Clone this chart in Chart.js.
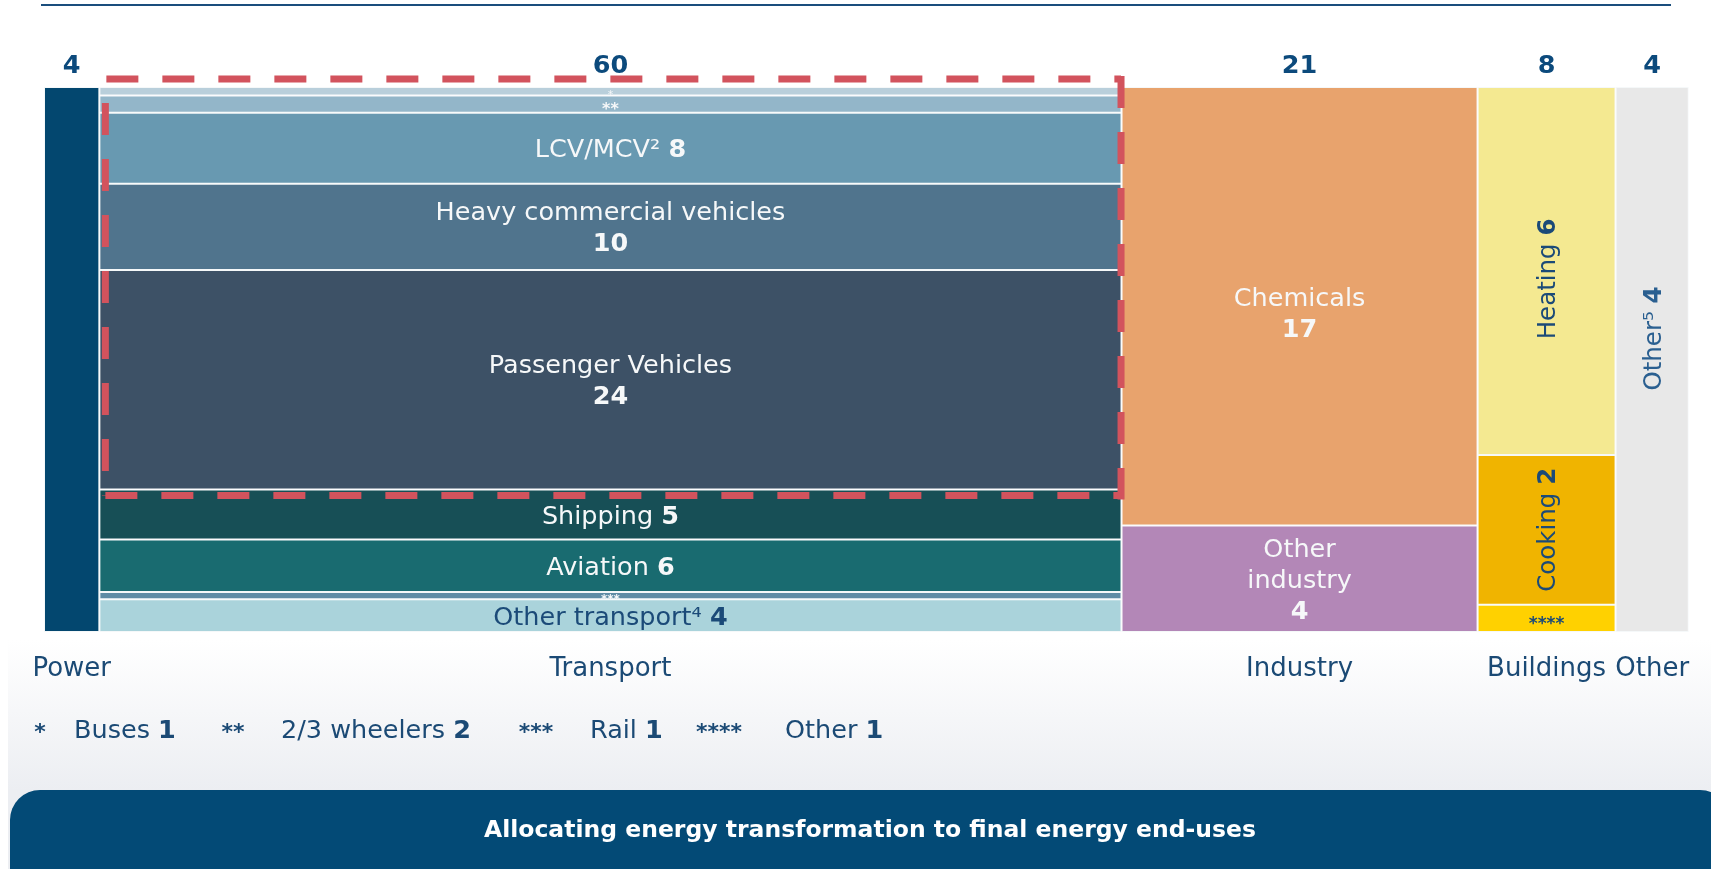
<!DOCTYPE html>
<html>
<head>
<meta charset="utf-8">
<script src="https://cdn.jsdelivr.net/npm/chart.js@4.4.1/dist/chart.umd.min.js"></script>
<style>
html,body{margin:0;padding:0;background:#fff;width:1711px;height:869px;overflow:hidden;font-family:"DejaVu Sans",sans-serif;}
#bgpanel{position:absolute;left:8px;top:600px;right:0;bottom:0;background:linear-gradient(to bottom,#ffffff 0px,#ffffff 40px,#eceef2 190px);}
#chart{position:absolute;left:0;top:0;}
#topline{position:absolute;left:41px;top:4px;width:1630px;height:2px;background:#1a4e7d;}
.leg{position:absolute;top:714px;font-size:25.5px;line-height:30px;color:#1b4a75;white-space:nowrap;}
.ast{position:absolute;top:717px;font-size:22px;font-weight:bold;line-height:30px;color:#1b4a75;transform:translateX(-50%);white-space:nowrap;}
#footer{position:absolute;left:10px;top:790px;width:1720px;height:110px;border-radius:30px;background:#034a76;color:#fff;}
#footer span{position:absolute;left:0;right:0;top:25px;text-align:center;line-height:28px;font-weight:bold;font-size:23.5px;}
</style>
</head>
<body>
<div id="bgpanel"></div>
<canvas id="chart" width="1711" height="869"></canvas>
<div id="topline"></div>
<div id="legend"></div>
<div id="footer"><span>Allocating energy transformation to final energy end-uses</span></div>
<script>
// ---------------- data ----------------
const columnNames = ['Power', 'Transport', 'Industry', 'Buildings', 'Other'];
const columnTotals = [4, 60, 21, 8, 4];
// column widths as drawn in the picture
const columnWidths = [3.25, 60, 20.9, 8.1, 4.3];

const powerSegments = ['Power'];
const powerValues = [4];

const transportSegments = ['Buses', '2/3 wheelers', 'LCV/MCV', 'Heavy commercial vehicles', 'Passenger Vehicles', 'Shipping', 'Aviation', 'Rail', 'Other transport'];
const transportValues = [0.95, 1.9, 7.8, 9.5, 24.2, 5.5, 5.8, 0.8, 3.6];
const transportLabelValues = [1, 2, 8, 10, 24, 5, 6, 1, 4];

const industrySegments = ['Chemicals', 'Other industry'];
const industryValues = [16.9, 4.1];
const industryLabelValues = [17, 4];

const buildingsSegments = ['Heating', 'Cooking', 'Other'];
const buildingsValues = [5.4, 2.2, 0.4];
const buildingsLabelValues = [6, 2, 1];

const otherSegments = ['Other'];
const otherValues = [4];

const footnoteMarks = ['*', '**', '***', '****'];
const footnoteNames = ['Buses', '2/3 wheelers', 'Rail', 'Other'];
const footnoteValues = [1, 2, 1, 1];

// ---------------- styles ----------------
const powerColors = ['#03476f'];
const transportColors = ['#b9cfdb', '#93b6c9', '#6899b1', '#50748d', '#3d5166', '#174f56', '#196b70', '#5f8ca5', '#aad3db'];
const industryColors = ['#e8a36d', '#b387b7'];
const buildingsColors = ['#f4e991', '#f0b400', '#ffd100'];
const otherColors = ['#e8e8e8'];
const NAVY = '#1b4a78';
const WHITE = '#f6f8f9';
const LABEL_SIZE = 25.5;

const columns = [
  {segs: powerSegments, vals: powerValues, colors: powerColors},
  {segs: transportSegments, vals: transportValues, colors: transportColors},
  {segs: industrySegments, vals: industryValues, colors: industryColors},
  {segs: buildingsSegments, vals: buildingsValues, colors: buildingsColors},
  {segs: otherSegments, vals: otherValues, colors: otherColors}
];

const totalWidth = columnWidths.reduce((a, b) => a + b, 0);
const centers = [];
const bounds = [];
const datasets = [];
const dsIndex = {};
let left = 0;
columns.forEach((col, ci) => {
  const L = left, R = left + columnWidths[ci], C = (L + R) / 2;
  centers.push(C); bounds.push([L, R]);
  const total = col.vals.reduce((a, b) => a + b, 0);
  let cum = 0;
  col.vals.forEach((v, si) => {
    dsIndex[ci + '_' + si] = datasets.length;
    datasets.push({
      label: col.segs[si],
      // neighbouring null points make the "flex" bar span exactly [L, R]
      data: [{x: 2 * L - C, y: null}, {x: C, y: [cum / total, (cum + v) / total]}, {x: 2 * R - C, y: null}],
      backgroundColor: col.colors[si],
      borderColor: 'rgba(244,247,249,0.92)',
      borderWidth: 1,
      borderSkipped: false,
      inflateAmount: 0,
      stack: 'mekko',
      barThickness: 'flex',
      categoryPercentage: 1,
      barPercentage: 1
    });
    cum += v;
  });
  left = R;
});

// ---------------- cell labels ----------------
const cellLabels = [
  {c: 1, s: 0, lines: [[{t: '*'}]], size: 11, color: WHITE, ast: true},
  {c: 1, s: 1, lines: [[{t: '**', b: true}]], size: 16, color: WHITE, ast: true},
  {c: 1, s: 2, lines: [[{t: 'LCV/MCV² '}, {t: String(transportLabelValues[2]), b: true}]], color: WHITE},
  {c: 1, s: 3, lines: [[{t: 'Heavy commercial vehicles'}], [{t: String(transportLabelValues[3]), b: true}]], color: WHITE},
  {c: 1, s: 4, lines: [[{t: 'Passenger Vehicles'}], [{t: String(transportLabelValues[4]), b: true}]], color: WHITE},
  {c: 1, s: 5, lines: [[{t: 'Shipping '}, {t: String(transportLabelValues[5]), b: true}]], color: WHITE},
  {c: 1, s: 6, lines: [[{t: 'Aviation '}, {t: String(transportLabelValues[6]), b: true}]], color: WHITE},
  {c: 1, s: 7, lines: [[{t: '***', b: true}]], size: 12, color: WHITE, ast: true},
  {c: 1, s: 8, lines: [[{t: 'Other transport⁴ '}, {t: String(transportLabelValues[8]), b: true}]], color: NAVY},
  {c: 2, s: 0, lines: [[{t: 'Chemicals'}], [{t: String(industryLabelValues[0]), b: true}]], color: WHITE, dy: 6},
  {c: 2, s: 1, lines: [[{t: 'Other'}], [{t: 'industry'}], [{t: String(industryLabelValues[1]), b: true}]], color: WHITE},
  {c: 3, s: 0, lines: [[{t: 'Heating '}, {t: String(buildingsLabelValues[0]), b: true}]], size: 24.5, color: NAVY, rot: true, dy: 8},
  {c: 3, s: 1, lines: [[{t: 'Cooking '}, {t: String(buildingsLabelValues[1]), b: true}]], size: 24.5, color: NAVY, rot: true},
  {c: 3, s: 2, lines: [[{t: '****', b: true}]], size: 17, color: NAVY, ast: true},
  {c: 4, s: 0, lines: [[{t: 'Other⁵ '}, {t: String(otherValues[0]), b: true}]], size: 24.5, color: '#2a5f90', rot: true, dy: -21}
];

function fontStr(b, size) { return (b ? 'bold ' : '') + size + 'px "DejaVu Sans"'; }

function drawRuns(ctx, runs, cx, cy, size, color, ast) {
  let total = 0;
  const widths = runs.map(r => { ctx.font = fontStr(r.b, size); const w = ctx.measureText(r.t).width; total += w; return w; });
  let x = cx - total / 2;
  ctx.textAlign = 'left';
  ctx.textBaseline = 'alphabetic';
  ctx.fillStyle = color;
  const base = cy + size * (ast ? 0.62 : 0.36);
  runs.forEach((r, i) => { ctx.font = fontStr(r.b, size); ctx.fillText(r.t, x, base); x += widths[i]; });
}

const labelPlugin = {
  id: 'cellLabels',
  afterDatasetsDraw(chart) {
    const ctx = chart.ctx;
    ctx.save();
    // dashed outline around the road-transport cells (Buses .. Passenger Vehicles)
    const first = chart.getDatasetMeta(dsIndex['1_0']).data[1];
    const pass = chart.getDatasetMeta(dsIndex['1_4']).data[1];
    const xs = chart.scales.x;
    const tl = xs.getPixelForValue(bounds[1][0]) + 6;
    const tr = xs.getPixelForValue(bounds[1][1]) - 0.5;
    const tt = Math.min(first.y, first.base) - 8;
    const tb = Math.max(pass.y, pass.base) + 6;
    ctx.strokeStyle = '#d2535d';
    ctx.lineWidth = 7;
    ctx.setLineDash([32, 24]);
    ctx.beginPath(); ctx.moveTo(tl + 1, tt); ctx.lineTo(tr, tt); ctx.stroke();
    ctx.beginPath(); ctx.moveTo(tr, tt - 3); ctx.lineTo(tr, tb + 4); ctx.stroke();
    ctx.beginPath(); ctx.moveTo(tl, tt + 24); ctx.lineTo(tl, tb); ctx.stroke();
    ctx.beginPath(); ctx.moveTo(tl, tb); ctx.lineTo(tr, tb); ctx.stroke();
    ctx.setLineDash([]);

    cellLabels.forEach(lab => {
      const el = chart.getDatasetMeta(dsIndex[lab.c + '_' + lab.s]).data[1];
      const cx = el.x;
      const cy = (el.y + el.base) / 2 + (lab.dy || 0);
      const size = lab.size || LABEL_SIZE;
      if (lab.rot) {
        ctx.save();
        ctx.translate(cx, cy);
        ctx.rotate(-Math.PI / 2);
        drawRuns(ctx, lab.lines[0], 0, 0, size, lab.color, false);
        ctx.restore();
      } else {
        const n = lab.lines.length, lh = 31;
        lab.lines.forEach((ln, k) => drawRuns(ctx, ln, cx, cy + (k - (n - 1) / 2) * lh, size, lab.color, lab.ast));
      }
    });
    ctx.restore();
  }
};

const BOTTOM_AXIS_H = 60, TOP_AXIS_H = 40;

new Chart(document.getElementById('chart'), {
  type: 'bar',
  data: {datasets},
  plugins: [labelPlugin],
  options: {
    responsive: false,
    animation: false,
    events: [],
    devicePixelRatio: 1,
    layout: {padding: {left: 44, right: 22, top: 87 - TOP_AXIS_H, bottom: 869 - 632 - BOTTOM_AXIS_H}},
    plugins: {legend: {display: false}, tooltip: {enabled: false}},
    scales: {
      x: {
        type: 'linear', position: 'bottom', stacked: true, min: 0, max: totalWidth, offset: false,
        grid: {display: false, drawTicks: false}, border: {display: false},
        afterBuildTicks: a => { a.ticks = centers.map(v => ({value: v})); },
        afterFit: a => { a.height = BOTTOM_AXIS_H; },
        ticks: {autoSkip: false, maxRotation: 0, minRotation: 0, padding: 21.4, color: '#1b4a75',
                font: {family: 'DejaVu Sans', size: 26}, callback: (v, i) => columnNames[i]}
      },
      x2: {
        type: 'linear', position: 'top', min: 0, max: totalWidth, offset: false,
        grid: {display: false, drawTicks: false}, border: {display: false},
        afterBuildTicks: a => { a.ticks = centers.map(v => ({value: v})); },
        afterFit: a => { a.height = TOP_AXIS_H; },
        ticks: {autoSkip: false, maxRotation: 0, minRotation: 0, padding: 5.7, color: '#0c4a7c',
                font: {family: 'DejaVu Sans', size: 25.5, weight: 'bold'}, callback: (v, i) => String(columnTotals[i])}
      },
      y: {type: 'linear', min: 0, max: 1, reverse: true, stacked: false, display: false}
    }
  }
});

// ---------------- footnote legend ----------------
const legendMarkX = [40, 233, 536, 719];
const legendTextX = [74, 281, 590, 785];
const legend = document.getElementById('legend');
footnoteMarks.forEach((m, i) => {
  const a = document.createElement('div');
  a.className = 'ast';
  a.style.left = legendMarkX[i] + 'px';
  a.textContent = m;
  legend.appendChild(a);
  const t = document.createElement('div');
  t.className = 'leg';
  t.style.left = legendTextX[i] + 'px';
  t.appendChild(document.createTextNode(footnoteNames[i] + ' '));
  const b = document.createElement('b');
  b.textContent = footnoteValues[i];
  t.appendChild(b);
  legend.appendChild(t);
});
</script>
</body>
</html>
